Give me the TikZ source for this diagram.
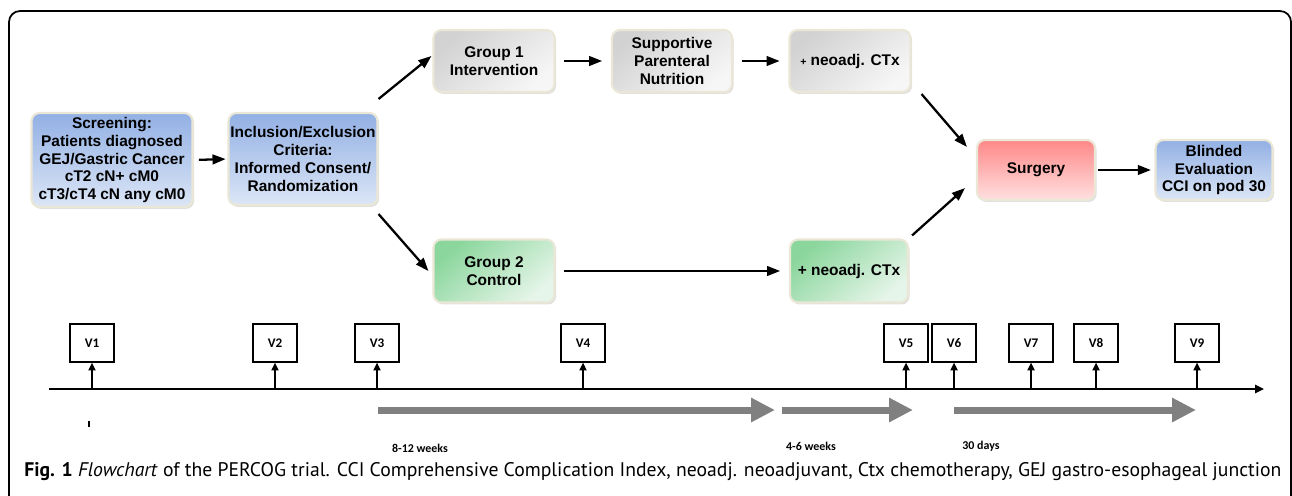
\documentclass[tikz,border=0pt]{standalone}
\usepackage{fontspec}
\setmainfont{Liberation Sans}
\newfontfamily\capfont{PT Sans}
\newfontfamily\calfont{Carlito}
\usetikzlibrary{arrows.meta,shadows}
\definecolor{bluetop}{RGB}{146,176,228}
\definecolor{bluebot}{RGB}{220,230,246}
\definecolor{graytop}{RGB}{210,210,210}
\definecolor{graybot}{RGB}{246,246,246}
\definecolor{greentop}{RGB}{138,214,156}
\definecolor{greenbot}{RGB}{230,245,233}
\definecolor{redtop}{RGB}{255,136,136}
\definecolor{redbot}{RGB}{255,224,224}
\definecolor{rim}{RGB}{234,231,214}
\definecolor{bar}{RGB}{128,128,128}

\begin{document}
\begin{tikzpicture}[x=0.02cm,y=-0.02cm,
    box/.style={rounded corners=0.16cm,draw=rim,line width=1.2pt,align=center,inner sep=1pt,
      font=\fontsize{8.8}{10.2}\selectfont\bfseries,
      drop shadow={opacity=0.25,shadow xshift=0.9pt,shadow yshift=-1.1pt}},
    bluebox/.style={box,top color=bluetop,bottom color=bluebot},
    greybox/.style={box,top color=graytop,bottom color=graybot,shading angle=40},
    greenbox/.style={box,top color=greentop,bottom color=greenbot,shading angle=40},
    redbox/.style={box,top color=redtop,bottom color=redbot},
    flow/.style={-{Triangle[length=7.5pt,width=5.5pt]},line width=1.3pt},
    vbox/.style={draw,line width=0.6pt,minimum width=0.88cm,minimum height=0.76cm,
      font=\calfont\bfseries\fontsize{7.5}{8}\selectfont},
    tick/.style={-{Triangle[length=4.5pt,width=4pt]},line width=1.2pt},
    bararrow/.style={bar,line width=0.14cm,-{Triangle[length=0.48cm,width=0.46cm]}},
    span/.style={font=\calfont\bfseries\fontsize{6.8}{8}\selectfont,inner sep=0pt}]

\useasboundingbox (0,0) rectangle (1292,495);
\draw[line width=1pt,rounded corners=0.22cm] (9,520) -- (9,11) -- (1291,11) -- (1291,520);

\node[bluebox,minimum width=3.22cm,minimum height=1.88cm] (screen) at (112,160)
  {Screening:\\Patients diagnosed\\GEJ/Gastric Cancer\\cT2 cN+ cM0\\cT3/cT4 cN any cM0};
\node[bluebox,minimum width=2.98cm,minimum height=1.84cm] (incl) at (303,159)
  {Inclusion/Exclusion\\Criteria:\\Informed Consent/\\Randomization};
\node[greybox,minimum width=2.42cm,minimum height=1.24cm] (grp1) at (494,61) {Group 1\\Intervention};
\node[greybox,minimum width=2.4cm,minimum height=1.24cm] (supp) at (672,61) {Supportive\\Parenteral\\Nutrition};
\node[greybox,minimum width=2.42cm,minimum height=1.24cm] (ctxa) at (850,61) {{\fontsize{6}{7}\selectfont+} neoadj. CTx};
\node[greenbox,minimum width=2.42cm,minimum height=1.26cm] (grp2) at (494,271) {Group 2\\Control};
\node[greenbox,minimum width=2.36cm,minimum height=1.26cm] (ctxb) at (849,271) {+ neoadj. CTx};
\node[redbox,minimum width=2.36cm,minimum height=1.2cm] (surg) at (1036,170) {Surgery};
\node[bluebox,minimum width=2.34cm,minimum height=1.2cm] (blind) at (1214,170) {Blinded\\Evaluation\\CCI on pod 30};

\draw[flow,shorten <=3pt,shorten >=1pt] (screen.east) -- (incl.west);
\draw[flow] ([yshift=0.26cm]incl.north east) -- ([shift={(-1,-5)}]grp1.west);
\draw[flow] ([yshift=-0.16cm]incl.south east) -- ([xshift=-0.08cm]grp2.west);
\draw[flow,shorten <=5pt,shorten >=5pt] (grp1) -- (supp);
\draw[flow,shorten <=5pt,shorten >=5pt] (supp) -- (ctxa);
\draw[flow,shorten <=5pt,shorten >=5pt] (grp2) -- (ctxb);
\draw[flow] ([shift={(10,1)}]ctxa.south east) -- ([shift={(-9,8)}]surg.north west);
\draw[flow] ([shift={(3,-3)}]ctxb.north east) -- ([shift={(-11,-13)}]surg.south west);
\draw[flow,shorten <=1pt,shorten >=2pt] (surg) -- (blind);

\coordinate (t0) at (49,389);
\coordinate (tend) at (1264,389);
\draw[line width=1.2pt,-{Triangle[length=5pt,width=4.5pt]}] (t0) -- (tend);
\foreach \n/\x in {1/92,2/275,3/377,4/583,5/906,6/954,7/1031,8/1096,9/1197}
{
  \node[vbox] (v\n) at (\x,343) {V\n};
  \coordinate (t\n) at (\x,389);
  \draw[tick] (t\n) -- (v\n.south);
}
\draw[line width=1.2pt] (89,421) -- (89,427);

\coordinate (a1) at (378,410);
\coordinate (b1) at (775,410);
\coordinate (a2) at (782,410);
\coordinate (b2) at (913,410);
\coordinate (a3) at (954,410);
\coordinate (b3) at (1196,410);
\draw[bararrow] (a1) -- (b1);
\draw[bararrow] (a2) -- (b2);
\draw[bararrow] (a3) -- (b3);
\node[span] (w1) at (420,448) {8-12 weeks};
\node[span] (w2) at (811,446) {4-6 weeks};
\node[span] (w3) at (981,446) {30 days};

\node[anchor=base west,inner sep=0pt,font=\capfont\fontsize{11.2}{13}\selectfont] (cap) at (24,476)
  {\textbf{Fig. 1} \textit{Flowchart} of the PERCOG trial. CCI Comprehensive Complication Index, neoadj. neoadjuvant, Ctx chemotherapy, GEJ gastro-esophageal junction};
\end{tikzpicture}
\end{document}
